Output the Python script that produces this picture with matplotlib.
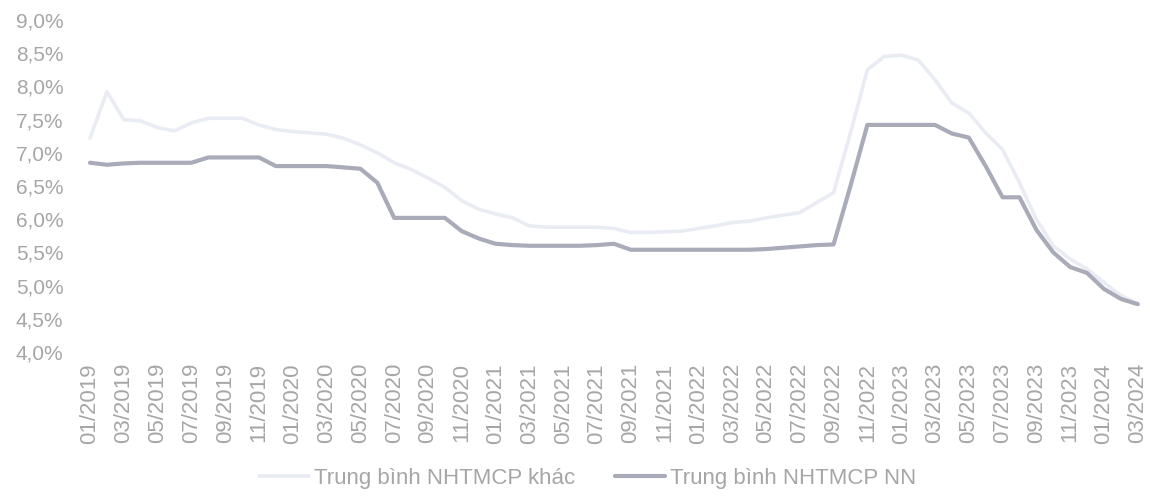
import matplotlib
matplotlib.use("Agg")
import matplotlib.pyplot as plt
from matplotlib.ticker import FuncFormatter

plt.rcParams['font.family'] = ['Liberation Sans', 'DejaVu Sans']

# Monthly periods 01/2019 .. 03/2024
months = [f"{m:02d}/{y}" for y in range(2019, 2025) for m in range(1, 13)][:63]

# Average deposit rates (%), other joint-stock commercial banks
khac = [7.22, 7.92, 7.50, 7.48, 7.38, 7.33, 7.45, 7.52, 7.52, 7.52,
        7.42, 7.35, 7.32, 7.30, 7.28, 7.22, 7.12, 7.00, 6.85, 6.75,
        6.62, 6.48, 6.28, 6.15, 6.08, 6.02, 5.90, 5.88, 5.88, 5.88,
        5.88, 5.86, 5.80, 5.80, 5.81, 5.82, 5.86, 5.90, 5.95, 5.97,
        6.02, 6.06, 6.10, 6.25, 6.40, 7.30, 8.25, 8.45, 8.47, 8.40,
        8.10, 7.75, 7.60, 7.30, 7.05, 6.55, 6.00, 5.60, 5.40, 5.25,
        5.05, 4.85, 4.73]

# Average deposit rates (%), state-owned commercial banks
nn = [6.85, 6.82, 6.84, 6.85, 6.85, 6.85, 6.85, 6.93, 6.93, 6.93,
      6.93, 6.80, 6.80, 6.80, 6.80, 6.78, 6.76, 6.55, 6.02, 6.02,
      6.02, 6.02, 5.82, 5.71, 5.63, 5.61, 5.60, 5.60, 5.60, 5.60,
      5.61, 5.63, 5.54, 5.54, 5.54, 5.54, 5.54, 5.54, 5.54, 5.54,
      5.55, 5.57, 5.59, 5.61, 5.62, 6.50, 7.42, 7.42, 7.42, 7.42,
      7.42, 7.29, 7.23, 6.80, 6.33, 6.33, 5.84, 5.50, 5.28, 5.19,
      4.95, 4.80, 4.72]

series_labels = ["Trung bình NHTMCP khác", "Trung bình NHTMCP NN"]
y_ticks = [4.0, 4.5, 5.0, 5.5, 6.0, 6.5, 7.0, 7.5, 8.0, 8.5, 9.0]

text_grey = "#a6a6a6"

fig = plt.figure(figsize=(11.5, 4.96), dpi=100)
ax = fig.add_axes([0.0709, 0.2903, 0.9258, 0.6694])

x = list(range(len(months)))
ax.plot(x, khac, color="#eaecf4", lw=2.6, solid_capstyle="round",
        label=series_labels[0])
ax.plot(x, nn, color="#a9abb9", lw=3.0, solid_capstyle="round",
        label=series_labels[1])

ax.set_xlim(-0.5, len(months) - 0.5)
ax.set_ylim(4.0, 9.0)
ax.set_yticks(y_ticks)
ax.yaxis.set_major_formatter(
    FuncFormatter(lambda v, p: f"{v:.1f}%".replace(".", ",")))
ax.set_xticks(x[::2])
ax.set_xticklabels(months[::2], rotation=90)

for s in ax.spines.values():
    s.set_visible(False)
ax.tick_params(axis="both", length=0, colors=text_grey)
ax.tick_params(axis="y", labelsize=15, pad=13)
ax.tick_params(axis="x", labelsize=16, pad=8)

leg = fig.legend(loc="center", bbox_to_anchor=(0.511, 0.035), ncol=2,
                 frameon=False, fontsize=16, handlelength=2.25,
                 handletextpad=0.2, columnspacing=1.8,
                 borderpad=0, borderaxespad=0)
for t in leg.get_texts():
    t.set_color(text_grey)

fig.savefig("out.png", dpi=100, facecolor="white")
